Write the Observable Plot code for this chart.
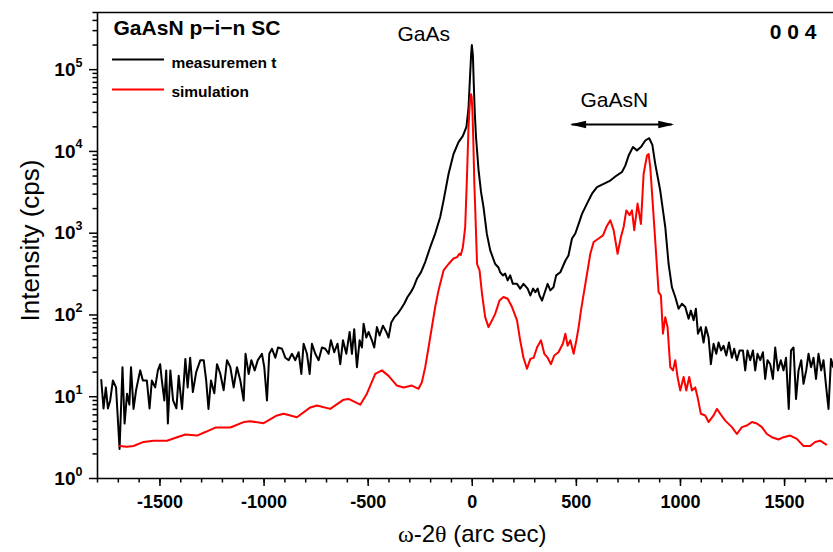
<!DOCTYPE html>
<html><head><meta charset="utf-8">
<script src="https://cdn.jsdelivr.net/npm/d3@7"></script>
<script src="https://cdn.jsdelivr.net/npm/@observablehq/plot@0.6"></script>
<style>body{margin:0;background:#fff;overflow:hidden}</style>
</head><body><div id="chart"></div>
<script>
// measurement (black), omega-2theta in arc sec, intensity in cps
const measX = [-1782,-1771,-1760,-1750,-1739,-1726,-1711,-1694,-1680,-1670,-1658,-1647,-1639,-1627,-1615,-1595,-1582,-1563,-1550,-1539,-1523,-1510,-1499,-1491,-1479,-1470,-1462,-1450,-1437,-1421,-1410,-1394,-1378,-1367,-1355,-1342,-1326,-1306,-1290,-1278,-1267,-1255,-1239,-1226,-1210,-1194,-1178,-1162,-1146,-1130,-1114,-1098,-1089,-1074,-1061,-1045,-1030,-1010,-999,-986,-975,-962,-946,-933,-914,-898,-882,-866,-850,-834,-821,-810,-794,-781,-770,-754,-738,-722,-706,-690,-679,-663,-647,-634,-621,-605,-589,-578,-567,-554,-541,-530,-522,-509,-498,-482,-471,-458,-445,-429,-413,-402,-389,-374,-359,-342,-327,-311,-295,-282,-266,-246,-226,-202,-178,-154,-138,-114,-90,-66,-45,-28,-18,-10,-5,-2,3,7,12,18,24,30,42,54,70,86,110,126,134,147,158,170,182,195,215,230,246,266,279,292,303,314,323,335,346,362,375,390,403,423,447,462,479,495,511,527,551,575,599,631,663,695,719,735,751,772,791,810,831,850,865,879,903,927,943,959,975,991,1007,1023,1039,1050,1063,1074,1084,1098,1111,1122,1135,1146,1159,1172,1183,1195,1207,1220,1233,1247,1258,1271,1284,1300,1311,1322,1335,1348,1359,1370,1383,1396,1407,1418,1431,1444,1455,1468,1482,1495,1507,1520,1531,1543,1555,1567,1580,1591,1604,1615,1627,1639,1651,1663,1676,1687,1700,1711,1723,1734];
const measY = [16,7.2,13,7.2,9,15.8,13,2.3,23,4.7,10.9,8,23,7.1,11.9,21,15.8,15.8,7.2,15.8,13,21,25,15.8,9,21,4.7,21,9,7.2,18,7.1,29,13,30,11.4,20,28,28,15.8,7.1,15.8,11,25,19,12,28,23,13,23,15.8,9,33.5,19,28,21,28,33.5,23,9,33.5,38.6,30,40,38.6,30,28,33.5,28,35,19,44.5,33.5,19,44.5,33.5,28,40,38.6,33.5,49,35,44.5,25,49,33.5,62,33.5,67,23,49,40,78,53,62,49,40,71,56,74,62,53,81,94,103,119,137,166,190,218,277,334,444,674,990,1580,2500,5300,9300,13000,15500,20000,34000,90000,160000,200000,150000,70000,30000,15000,9500,6000,3200,2080,980,620,420,380,333,305,320,265,305,240,240,210,240,210,173,210,190,210,173,150,182,240,200,218,305,333,460,534,860,990,1300,1720,2300,3040,3650,4000,4400,5100,5600,6700,8900,11300,10300,11300,13600,14500,12000,7000,3300,1190,420,218,166,119,137,125,90,113,86,119,59,71,46,71,53,25,44.5,33.5,46,36.8,42,32,46,30,38.6,28,36.8,36.8,21,36.8,28,36.8,21,33.5,28,35,16.5,28,25,16.5,40,21,28,21,30,7.1,36.8,40,9.4,21,28,14.4,21,33.5,23,30,16.5,33.5,21,28,13,7.1,29,23];
// simulation (red)
const simX = [-1694,-1660,-1627,-1579,-1531,-1466,-1418,-1378,-1322,-1282,-1234,-1162,-1098,-1066,-1002,-938,-906,-842,-778,-746,-682,-618,-594,-538,-506,-466,-434,-402,-362,-330,-290,-258,-242,-226,-210,-194,-178,-162,-138,-114,-90,-73,-62,-55,-45,-34,-25,-18,-11,-6,-3,1,5,10,14,23,35,47,62,78,95,110,131,150,170,191,215,230,246,263,279,295,311,330,346,362,378,394,414,435,447,458,471,487,500,511,522,538,551,567,583,607,628,644,663,679,698,714,727,740,756,767,778,794,810,823,839,847,855,868,884,895,906,916,927,938,951,964,975,986,999,1015,1028,1042,1055,1071,1082,1098,1119,1135,1159,1175,1191,1215,1247,1271,1295,1319,1343,1367,1391,1415,1439,1471,1495,1527,1559,1591,1623,1647,1671,1700];
const simY = [2.5,2.45,2.5,2.8,2.9,2.9,3.2,3.45,3.35,3.7,4.2,4.2,4.9,5.0,4.75,5.9,6.2,5.6,7.4,7.8,7.1,9.2,9.4,8.0,10.9,19,21,18,13.7,13,13.7,12.5,15,23,40,71,125,200,350,420,490,510,560,540,680,1190,5300,20000,42000,50000,46000,30000,13600,4000,2080,420,350,180,94,71,86,103,150,166,158,125,86,49,30,22,29,30,40,49,33.5,30,25,32,35,44.5,59,42,49,33.5,49,71,113,200,317,560,780,860,940,1190,1440,1090,560,900,1190,1900,1660,1900,1090,2300,1300,5300,8900,9300,6400,2080,510,190,173,59,94,71,23,21,28,17.4,11.9,17.4,11.9,17.4,11.9,13,9.9,6.2,5.9,4.9,5.9,7.1,6.2,5.1,4.25,3.5,4.25,4.45,4.9,4.7,4.25,3.5,3.2,3.0,3.2,3.35,3.05,2.5,2.5,2.8,2.9,2.6];

const xMajorTicks = [-1500,-1000,-500,0,500,1000,1500];
const xMinorTicks = d3.range(-1800, 1800, 100);
const yExponents = [0,1,2,3,4,5];
const yMinorTicks = yExponents.flatMap(e => [2,3,4,5,6,7,8,9].map(m => m * 10 ** e)).filter(v => v <= 5e5);

const meas = measX.map((x, i) => ({x, y: measY[i]}));
const sim = simX.map((x, i) => ({x, y: simY[i]}));

const sans = "'Liberation Sans', Arial, Helvetica, sans-serif";
const headRight = {draw(c) { c.moveTo(0, 0); c.lineTo(-16, -3.8); c.lineTo(-16, 3.8); c.closePath(); }};
const headLeft = {draw(c) { c.moveTo(0, 0); c.lineTo(16, -3.8); c.lineTo(16, 3.8); c.closePath(); }};

const chart = Plot.plot({
  width: 833, height: 552,
  marginLeft: 97, marginRight: 0, marginTop: 12, marginBottom: 74,
  style: {fontFamily: sans, background: "white", color: "black", overflow: "visible"},
  x: {domain: [-1800, 1735]},
  y: {type: "log", domain: [1, 5e5]},
  marks: [
    Plot.axisX(xMinorTicks, {tickSize: 4.5, tickFormat: () => "", label: null, strokeWidth: 1.5}),
    Plot.axisX(xMajorTicks, {tickSize: 8, tickPadding: 9, tickFormat: d => String(d), label: null, fontSize: 18, fontWeight: "bold", strokeWidth: 1.5}),
    Plot.axisY(yMinorTicks, {tickSize: 4.5, tickFormat: () => "", label: null, strokeWidth: 1.5}),
    Plot.axisY(yExponents.map(e => 10 ** e), {tickSize: 8, tickPadding: 14, tickFormat: () => "10", label: null, fontSize: 19, fontWeight: "bold", strokeWidth: 1.5}),
    Plot.text(yExponents, {frameAnchor: "left", y: e => 10 ** e, text: e => String(e), dx: -22, dy: -7, textAnchor: "start", fontSize: 12.5, fontWeight: "bold"}),
    Plot.ruleX([-1800], {strokeWidth: 1.6}),
    Plot.ruleY([1, 5e5], {strokeWidth: 1.6}),
    Plot.line(meas, {x: "x", y: "y", stroke: "black", strokeWidth: 2}),
    Plot.line(sim, {x: "x", y: "y", stroke: "#ff0000", strokeWidth: 2}),
    // annotations
    Plot.text(["GaAsN p\u2212i\u2212n SC"], {x: -1723, y: 2.62e5, text: d => d, textAnchor: "start", lineAnchor: "bottom", fontSize: 21, fontWeight: "bold"}),
    Plot.ruleY([1.33e5], {x1: -1728, x2: -1478, stroke: "black", strokeWidth: 2}),
    Plot.ruleY([5.71e4], {x1: -1728, x2: -1478, stroke: "#ff0000", strokeWidth: 2}),
    Plot.text(["measuremen t"], {x: -1445, y: 1.06e5, text: d => d, textAnchor: "start", lineAnchor: "bottom", fontSize: 15.5, fontWeight: "bold"}),
    Plot.text(["simulation"], {x: -1445, y: 4.6e4, text: d => d, textAnchor: "start", lineAnchor: "bottom", fontSize: 15.5, fontWeight: "bold"}),
    Plot.text(["GaAs"], {x: -359, y: 2.21e5, text: d => d, textAnchor: "start", lineAnchor: "bottom", fontSize: 21}),
    Plot.text(["0 0 4"], {x: 1653, y: 2.4e5, text: d => d, textAnchor: "end", lineAnchor: "bottom", fontSize: 21, fontWeight: "bold"}),
    Plot.text(["GaAsN"], {x: 520, y: 3.54e4, text: d => d, textAnchor: "start", lineAnchor: "bottom", fontSize: 21}),
    Plot.ruleY([2.13e4], {x1: 480, x2: 960, stroke: "black", strokeWidth: 2}),
    Plot.dot([970], {x: d => d, y: () => 2.13e4, symbol: headRight, fill: "black", r: 5}),
    Plot.dot([470], {x: d => d, y: () => 2.13e4, symbol: headLeft, fill: "black", r: 5}),
    // axis titles
    Plot.text(["\u03c9-2\u03b8 (arc sec)"], {frameAnchor: "bottom", x: 0, text: d => d, textAnchor: "middle", lineAnchor: "bottom", dy: 63, fontSize: 24, ariaLabel: "x-title"}),
    Plot.text(["Intensity (cps)"], {frameAnchor: "left", text: d => d, textAnchor: "middle", rotate: -90, dx: -67, dy: -5, fontSize: 26})
  ]
});
// render omega and theta glyphs in a serif face, as in the original figure
d3.select(chart).selectAll("text").each(function () {
  if (this.textContent === "\u03c9-2\u03b8 (arc sec)") {
    const t = d3.select(this);
    t.text(null);
    [["\u03c9", true], ["-2", false], ["\u03b8", true], [" (arc sec)", false]].forEach(([s, serif]) => {
      const sp = t.append("tspan").text(s);
      if (serif) sp.attr("font-family", "'Liberation Serif', 'Times New Roman', serif");
    });
  }
});
document.getElementById("chart").appendChild(chart);
</script>
</body></html>
